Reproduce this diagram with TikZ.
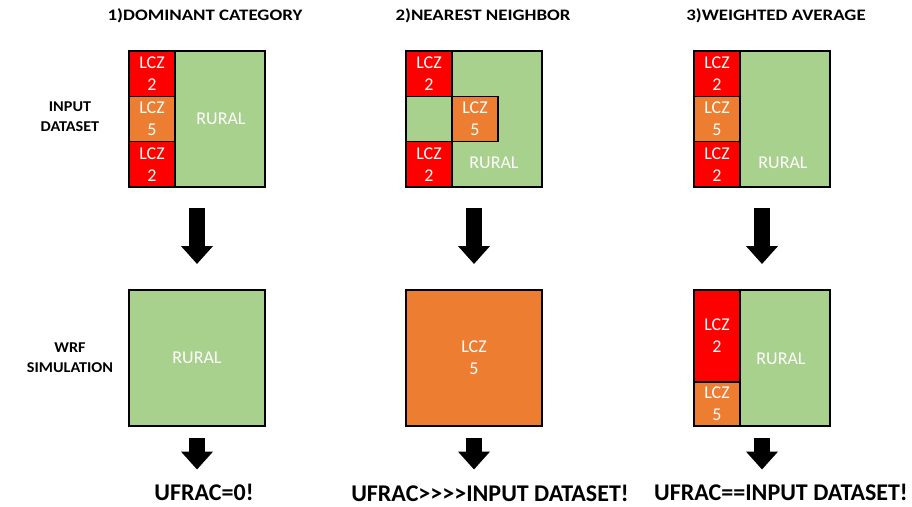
\documentclass[tikz,border=0pt]{standalone}
\usepackage{fontspec}
\setmainfont{Carlito}
\newfontfamily\widefont{Carlito}[FakeStretch = 1.18]
\newfontfamily\sidefont{Carlito}[FakeStretch = 1.08]
\usetikzlibrary{arrows.meta}
\usetikzlibrary{positioning}
\definecolor{lczred}{HTML}{FF0000}
\definecolor{lczorange}{HTML}{ED7D31}
\definecolor{rural}{HTML}{A9D18E}
\tikzset{box/.style = {draw, line width = 2, minimum size = 136, inner sep = 0, outer sep = 0,
                       text = white, align = center, font = \fontsize{18}{22}\selectfont}}
\tikzset{cell/.style = {draw, line width = 1.5, minimum width = 46, minimum height = 45.33,
                        inner sep = 0, outer sep = 0, anchor = north west,
                        text = white, align = center, font = \fontsize{18}{22}\selectfont}}
\tikzset{lab/.style = {text = white, font = \fontsize{18}{22}\selectfont}}
\tikzset{title/.style = {font = \widefont\bfseries\fontsize{16}{18}\selectfont}}
\tikzset{side/.style = {font = \sidefont\bfseries\fontsize{15}{20}\selectfont, align = center}}
\tikzset{result/.style = {inner sep = 0, font = \bfseries\fontsize{24}{26}\selectfont}}
\tikzset{bigarrow/.style = {line width = 16, -{Triangle[width = 31pt, length = 18pt]}}}

\begin{document}
\begin{tikzpicture}[x = 1pt, y = -1pt]
      \useasboundingbox [fill = white] (0, 0) rectangle (912, 506);
      % headings
      \node [title] (t1) at (205, 16) {1)DOMINANT CATEGORY};
      \node [title] (t2) at (483, 16) {2)NEAREST NEIGHBOR};
      \node [title] (t3) at (776, 16) {3)WEIGHTED AVERAGE};
      \node [side] (s1) at (70, 117) {INPUT\\DATASET};
      \node [side] (s2) at (70, 358) {WRF\\SIMULATION};
      % input dataset
      \node [box, fill = rural] (in1) at (197, 119) {};
      \node [cell, fill = lczred] (in1a) at (in1.north west) {LCZ\\2};
      \node [cell, fill = lczorange, below = 0 of in1a] (in1b) {LCZ\\5};
      \node [cell, fill = lczred, below = 0 of in1b] (in1c) {LCZ\\2};
      \node [lab] (in1r) at (221, 119) {RURAL};

      \node [box, fill = rural] (in2) at (474, 119) {};
      \node [cell, fill = lczred] (in2a) at (in2.north west) {LCZ\\2};
      \node [cell, fill = rural, below = 0 of in2a] (in2b) {};
      \node [cell, fill = lczred, below = 0 of in2b] (in2c) {LCZ\\2};
      \node [cell, fill = lczorange, right = 0 of in2b] (in2d) {LCZ\\5};
      \node [lab] (in2r) at (494, 163) {RURAL};

      \node [box, fill = rural] (in3) at (762, 119) {};
      \node [cell, fill = lczred] (in3a) at (in3.north west) {LCZ\\2};
      \node [cell, fill = lczorange, below = 0 of in3a] (in3b) {LCZ\\5};
      \node [cell, fill = lczred, below = 0 of in3b] (in3c) {LCZ\\2};
      \node [lab] (in3r) at (783, 163) {RURAL};
      % wrf simulation
      \node [box, fill = rural] (out1) at (197, 358) {RURAL};
      \node [box, fill = lczorange] (out2) at (474, 358) {LCZ\\5};
      \node [box, fill = rural] (out3) at (762, 358) {};
      \node [cell, fill = lczred, minimum height = 92] (out3a) at (out3.north west) {LCZ\\2};
      \node [cell, fill = lczorange, minimum height = 44, below = 0 of out3a] (out3b) {LCZ\\5};
      \node [lab] (out3r) at (781, 359) {RURAL};
      % results
      \node [result] (res1) at (204, 492) {UFRAC=0!};
      \node [result] (res2) at (490, 493) {UFRAC>\kern0pt>\kern0pt>\kern0pt>INPUT DATASET!};
      \node [result] (res3) at (781, 492) {UFRAC==INPUT DATASET!};
      % arrows
      \draw [bigarrow, shorten <= 21, shorten >= 26] (in1.south) -- (out1.north);
      \draw [bigarrow, shorten <= 21, shorten >= 26] (in2.south) -- (out2.north);
      \draw [bigarrow, shorten <= 21, shorten >= 26] (in3.south) -- (out3.north);
      \draw [bigarrow, shorten <= 12, shorten >= 14] (out1.south) -- (out1.south |- res1.north);
      \draw [bigarrow, shorten <= 12, shorten >= 15] (out2.south) -- (out2.south |- res2.north);
      \draw [bigarrow, shorten <= 12, shorten >= 14] (out3.south) -- (out3.south |- res3.north);
    \end{tikzpicture}
\end{document}
